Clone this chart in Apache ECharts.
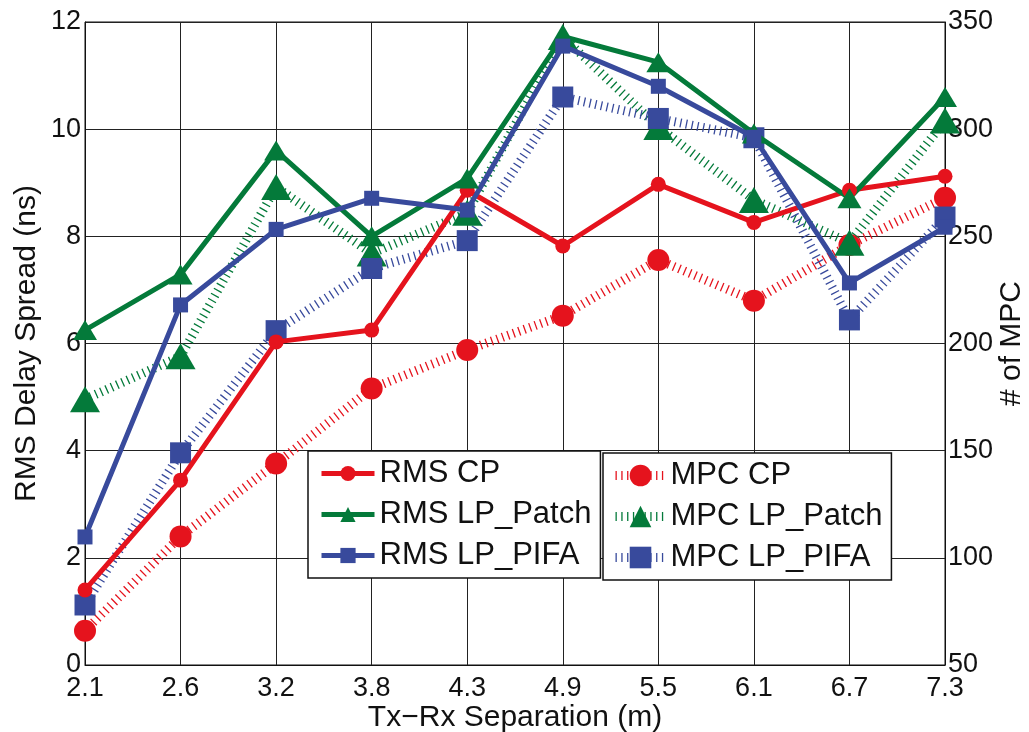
<!DOCTYPE html>
<html>
<head>
<meta charset="utf-8">
<title>RMS delay spread and MPC count</title>
<script src="https://cdn.jsdelivr.net/npm/echarts@6/dist/echarts.min.js"></script>
<style>
  html, body { margin: 0; padding: 0; background: #fff; }
  #main { width: 1029px; height: 732px; }
</style>
</head>
<body>
<div id="main"></div>
<script>
// Tx-Rx separation (m)
var distances = ['2.1', '2.6', '3.2', '3.8', '4.3', '4.9', '5.5', '6.1', '6.7', '7.3'];

// RMS delay spread (ns), left axis
var rmsCP    = [1.40, 3.45, 6.03, 6.25, 8.86, 7.82, 8.97, 8.26, 8.86, 9.12];
var rmsPatch = [6.25, 7.29, 9.60, 8.00, 9.08, 11.73, 11.25, 9.92, 8.71, 10.60];
var rmsPIFA  = [2.39, 6.72, 8.13, 8.71, 8.49, 11.55, 10.80, 9.85, 7.13, 8.17];

// number of MPC, right axis
var mpcCP    = [66, 110, 144, 179, 197, 213, 239, 220, 246, 268];
var mpcPatch = [174, 194, 273, 242, 261, 343, 301, 267, 247, 304];
var mpcPIFA  = [78, 149, 206, 235, 248, 315, 305, 296, 211, 259];

var RED = '#e5131d', GREEN = '#047a3a', BLUE = '#384a9c';
var FONT = '"Liberation Sans", Arial, sans-serif';

var chart = echarts.init(document.getElementById('main'));

// solid line series (RMS, left axis)
function rmsSeries(name, data, color, symbol, size) {
    return {
        name: name, type: 'line', yAxisIndex: 0, data: data,
        symbol: symbol, symbolSize: size, showSymbol: true,
        lineStyle: { color: color, width: 5 },
        itemStyle: { color: color },
        z: 3
    };
}

// hatched line series (MPC, right axis)
function mpcSeries(name, data, color, symbol, size) {
    return {
        name: name, type: 'line', yAxisIndex: 1, data: data,
        symbol: symbol, symbolSize: size, showSymbol: true,
        lineStyle: { color: color, width: 9, type: [1.3, 4.5] },
        itemStyle: { color: color },
        z: 2
    };
}

var legendText = { fontFamily: FONT, fontSize: 31, color: '#111', lineHeight: 30 };

var option = {
    backgroundColor: '#fff',
    animation: false,
    textStyle: { fontFamily: FONT },
    grid: {
        left: 85, right: 84, top: 22, bottom: 67,
        outerBoundsMode: 'none',
        show: true, borderColor: '#111', borderWidth: 1
    },
    legend: [
        {
            data: ['RMS CP', 'RMS LP_Patch', 'RMS LP_PIFA'],
            orient: 'vertical', left: 308, top: 451,
            itemWidth: 53, itemHeight: 19, itemGap: 10,
            padding: [7, 9, 7, 11],
            lineStyle: { width: 'inherit' },
            backgroundColor: '#fff', borderColor: '#111', borderWidth: 1.5,
            textStyle: legendText
        },
        {
            data: ['MPC CP', 'MPC LP_Patch', 'MPC LP_PIFA'],
            orient: 'vertical', left: 603, top: 453,
            itemWidth: 50, itemHeight: 27, itemGap: 10,
            padding: [7, 9, 7, 8],
            lineStyle: { width: 'inherit' },
            backgroundColor: '#fff', borderColor: '#111', borderWidth: 1.5,
            textStyle: legendText
        }
    ],
    xAxis: {
        type: 'category', data: distances, boundaryGap: false,
        name: 'Tx\u2212Rx Separation (m)', nameLocation: 'middle', nameGap: 38,
        nameMoveOverlap: false,
        nameTextStyle: { fontSize: 30, color: '#111' },
        axisLine: { lineStyle: { color: '#111', width: 1 } },
        axisTick: { show: false },
        axisLabel: { fontSize: 27, color: '#111', margin: 10 },
        splitLine: { show: true, lineStyle: { color: '#222', width: 1 } }
    },
    yAxis: [
        {
            type: 'value', min: 0, max: 12, interval: 2,
            name: 'RMS Delay Spread (ns)', nameLocation: 'middle', nameGap: 43,
            nameRotate: 90, nameMoveOverlap: false,
            nameTextStyle: { fontSize: 30, color: '#111' },
            axisLine: { show: true, lineStyle: { color: '#111', width: 1 } },
            axisTick: { show: false },
            axisLabel: { fontSize: 27, color: '#111', margin: 4 },
            splitLine: { show: true, lineStyle: { color: '#222', width: 1 } }
        },
        {
            type: 'value', min: 50, max: 350, interval: 50,
            name: '# of MPC', nameLocation: 'middle', nameGap: 52,
            nameRotate: 90, nameMoveOverlap: false,
            nameTextStyle: { fontSize: 30, color: '#111' },
            axisLine: { show: true, lineStyle: { color: '#111', width: 1 } },
            axisTick: { show: false },
            axisLabel: { fontSize: 27, color: '#111', margin: 3 },
            splitLine: { show: false }
        }
    ],
    series: [
        mpcSeries('MPC CP', mpcCP, RED, 'circle', 22),
        mpcSeries('MPC LP_Patch', mpcPatch, GREEN, 'triangle', [30, 26]),
        mpcSeries('MPC LP_PIFA', mpcPIFA, BLUE, 'rect', 21),
        rmsSeries('RMS CP', rmsCP, RED, 'circle', 15),
        rmsSeries('RMS LP_Patch', rmsPatch, GREEN, 'triangle', [24, 20]),
        rmsSeries('RMS LP_PIFA', rmsPIFA, BLUE, 'rect', 15)
    ]
};

chart.setOption(option);
</script>
</body>
</html>
